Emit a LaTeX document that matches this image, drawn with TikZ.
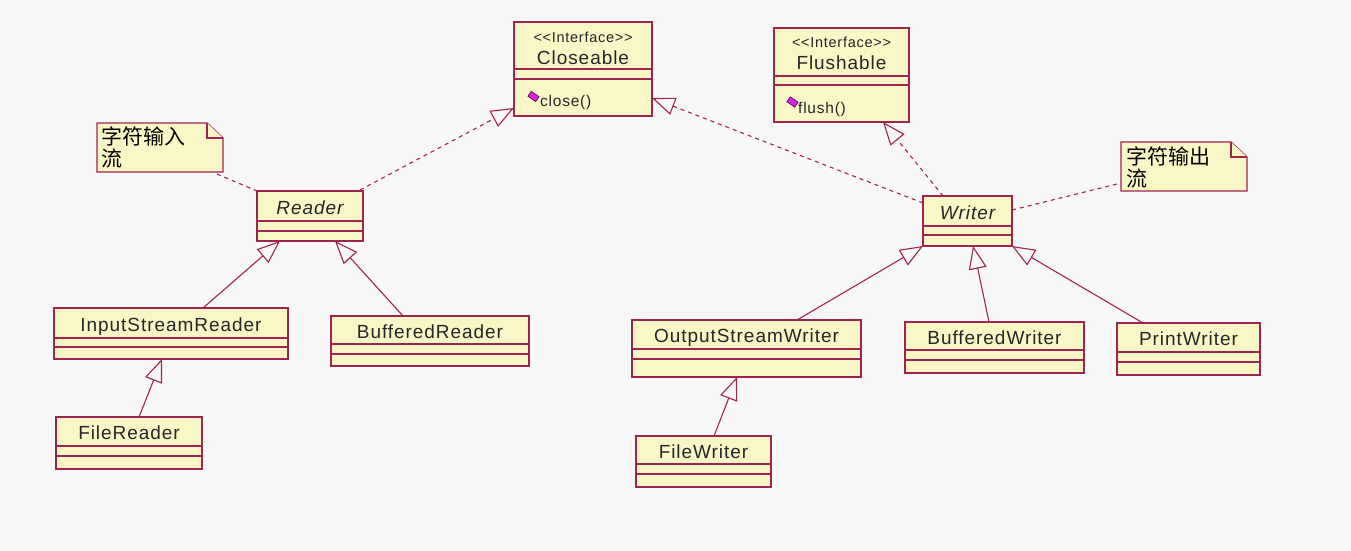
\documentclass[tikz,border=0pt]{standalone}
\usepackage{fontspec}
\setmainfont{Liberation Sans}
\newfontfamily\clsfont[LetterSpace=5]{Liberation Sans}
\newfontfamily\cjkfont{Noto Sans CJK SC}
\usetikzlibrary{arrows.meta,calc}

\definecolor{bgcol}{HTML}{F8F8F8}
\definecolor{boxfill}{HTML}{F9F7C6}
\definecolor{umlline}{HTML}{A0244F}
\definecolor{opicon}{HTML}{E01EE0}
\definecolor{opedge}{HTML}{40104A}

\tikzset{
  umlbox/.style={draw=umlline, fill=boxfill, line width=1.3pt, inner sep=0pt, outer sep=0pt},
  sepline/.style={draw=umlline, line width=1.3pt},
  clsname/.style={font=\clsfont\fontsize{19}{21}\selectfont, text=black!85, inner sep=0pt,
                  text height=13.6pt, text depth=0pt},
  stereo/.style={font=\clsfont\fontsize{14.5}{16}\selectfont, text=black!85, inner sep=0pt, anchor=base},
  ifname/.style={font=\clsfont\fontsize{19}{21}\selectfont, text=black!85, inner sep=0pt, anchor=base},
  opname/.style={font=\clsfont\fontsize{15.5}{17}\selectfont, text=black!85, inner sep=0pt, anchor=base west},
  opmark/.style={draw=opedge, fill=opicon, line width=0.6pt, inner sep=0pt, outer sep=0pt,
                 minimum width=9.5pt, minimum height=6pt, rotate=-35},
  notebox/.style={draw=umlline, fill=boxfill, line width=1.3pt, line join=miter},
  notetext/.style={font=\cjkfont\fontsize{21}{22}\selectfont, text=black, align=left,
                   inner sep=0pt, anchor=north west},
  gen/.style={draw=umlline, line width=1.1pt,
              -{Triangle[open, length=23pt, width=18pt, line width=1.1pt]}},
  real/.style={gen, dash pattern=on 4pt off 4pt},
  notelink/.style={draw=umlline, line width=1.1pt, dash pattern=on 4pt off 4pt},
}

% class box: name, left, top, right, first separator, second separator, bottom, title
\newcommand\umlclass[8]{%
  \node[umlbox, minimum width={(#4)-(#2)}, minimum height={(#7)-(#3)}]
    (#1) at ({((#2)+(#4))/2},{((#3)+(#7))/2}) {};
  \draw[sepline] (#2,#5) -- (#4,#5) (#2,#6) -- (#4,#6);
  \node[clsname, yshift=-1.5pt] (#1-name) at ({((#2)+(#4))/2},{((#3)+(#5))/2}) {#8};
}

% note with folded corner: name, left, top, right, bottom
\newcommand\umlnote[5]{%
  \node[inner sep=0pt, outer sep=0pt, minimum width={(#4)-(#2)}, minimum height={(#5)-(#3)}]
    (#1) at ({((#2)+(#4))/2},{((#3)+(#5))/2}) {};
  \filldraw[notebox] (#1.north west) -- ($(#1.north east)+(-16,0)$) -- ($(#1.north east)+(0,15)$)
    -- (#1.south east) -- (#1.south west) -- cycle;
  \draw[notebox] ($(#1.north east)+(-16,0)$) -- ($(#1.north east)+(-16,15)$) -- ($(#1.north east)+(0,15)$);
}

\begin{document}
\begin{tikzpicture}[x=1pt, y=-1pt]
  \useasboundingbox (0,0) rectangle (1351,551);
  \fill[bgcol] (0,0) rectangle (1351,551);

  % interfaces
  \umlclass{closeable}{514}{22}{652}{69}{79}{116}{}
  \node[stereo] (closeable-st) at (583,42.5) {<<Interface>>};
  \node[ifname] (closeable-nm) at (583,64.5) {Closeable};
  \node[opmark] (closeable-op) at (533.5,96.5) {};
  \node[opname] (closeable-close) at (540,106.5) {close()};

  \umlclass{flushable}{774}{28}{909}{76}{85}{122}{}
  \node[stereo] (flushable-st) at (841.5,47.5) {<<Interface>>};
  \node[ifname] (flushable-nm) at (841.5,69.5) {Flushable};
  \node[opmark] (flushable-op) at (792.5,102) {};
  \node[opname] (flushable-flush) at (798,113) {flush()};

  % abstract base classes
  \umlclass{reader}{257}{191}{363}{221}{231}{241}{\itshape Reader}
  \umlclass{writer}{923}{196}{1012}{226}{235}{246}{\itshape Writer}

  % concrete readers
  \umlclass{isr}{54}{308}{288}{338}{347}{359}{InputStreamReader}
  \umlclass{bufreader}{331}{316}{529}{344}{354}{366}{BufferedReader}
  \umlclass{filereader}{56}{417}{202}{446}{456}{469}{FileReader}

  % concrete writers
  \umlclass{osw}{632}{320}{861}{349}{359}{377}{OutputStreamWriter}
  \umlclass{filewriter}{636}{436}{771}{464}{474}{487}{FileWriter}
  \umlclass{bufwriter}{905}{322}{1084}{350}{360}{373}{BufferedWriter}
  \umlclass{printwriter}{1117}{323}{1260}{352}{362}{375}{PrintWriter}

  % notes
  \umlnote{note1}{97}{123}{223}{172}
  \node[notetext] (note1-text) at (101.5,127) {字符输入\\流};
  \umlnote{note2}{1121}{142}{1247}{191}
  \node[notetext] (note2-text) at (1126,146.5) {字符输出\\流};

  % realizations
  \draw[real] ($(reader.north east)+(-3,-1)$) -- ($(closeable.south west)+(0,-8)$);
  \draw[real] ($(writer.north west)+(0,7)$) -- ($(closeable.south east)+(0,-18)$);
  \draw[real] ($(writer.north west)+(20,0)$) -- ($(flushable.south east)+(-26,0)$);

  % note links
  \draw[notelink] ($(note1.south east)+(-6,2)$) -- (reader.north west);
  \draw[notelink] ($(writer.north east)+(0,14)$) -- ($(note2.south west)+(0,-8)$);

  % generalizations
  \draw[gen] ($(isr.north west)+(149,0)$) -- ($(reader.south west)+(23,0)$);
  \draw[gen] ($(bufreader.north west)+(72,0)$) -- ($(reader.south west)+(78,0)$);
  \draw[gen] ($(filereader.north west)+(83,0)$) -- ($(isr.south west)+(108,0)$);
  \draw[gen] ($(osw.north west)+(165,0)$) -- (writer.south west);
  \draw[gen] ($(filewriter.north west)+(78,0)$) -- ($(osw.south west)+(105,0)$);
  \draw[gen] ($(bufwriter.north west)+(84,0)$) -- ($(writer.south west)+(50,0)$);
  \draw[gen] ($(printwriter.north west)+(26,0)$) -- (writer.south east);
\end{tikzpicture}
\end{document}
